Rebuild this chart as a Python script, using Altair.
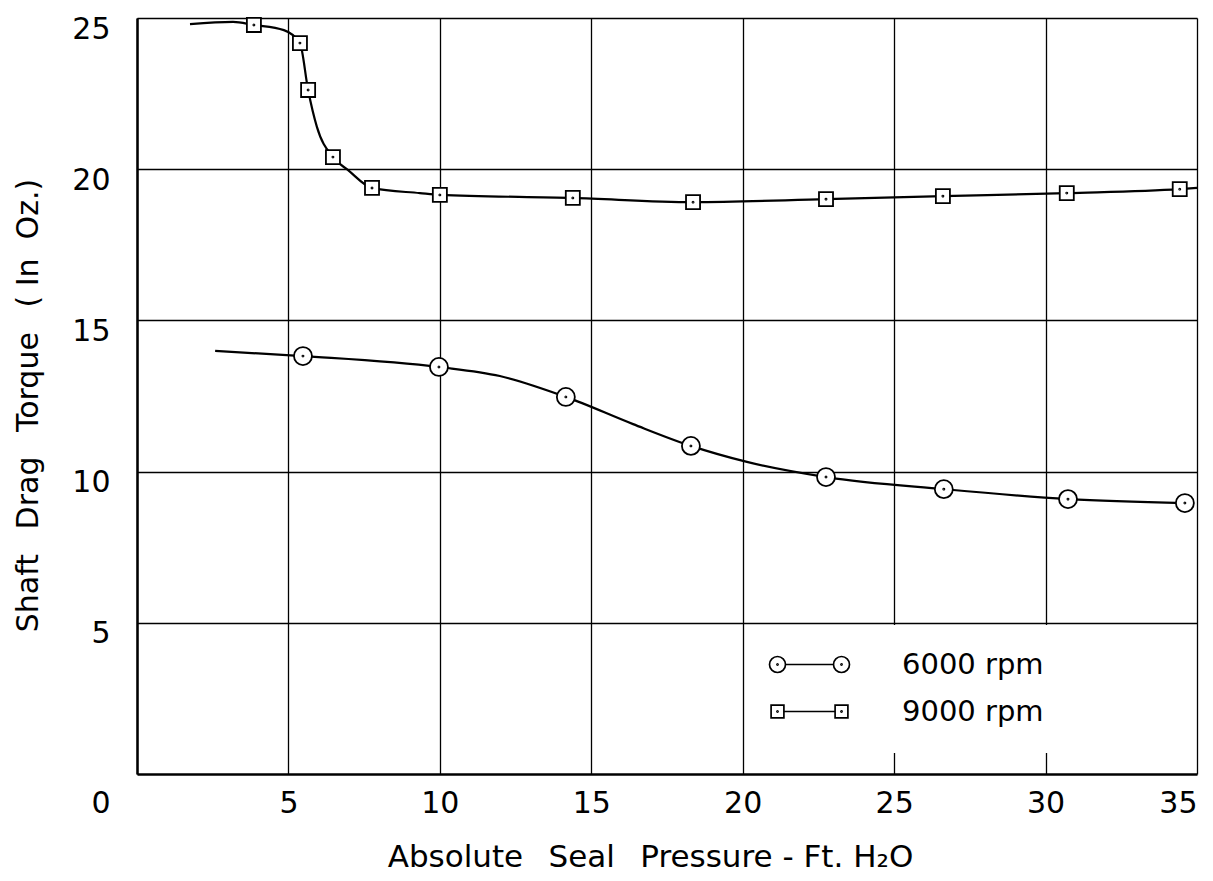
import altair as alt
import pandas as pd

series_names = ["6000 rpm", "9000 rpm"]

p6000_x = [5.48, 9.97, 14.16, 18.29, 22.75, 26.64, 30.74, 34.60]
p6000_y = [13.82, 13.46, 12.47, 10.85, 9.82, 9.42, 9.09, 8.96]
p9000_x = [3.86, 5.38, 5.65, 6.47, 7.76, 10.0, 14.39, 18.36, 22.75, 26.61, 30.70, 34.43]
p9000_y = [24.77, 24.17, 22.62, 20.40, 19.38, 19.15, 19.05, 18.91, 19.01, 19.11, 19.21, 19.34]

# faired curves
c6000_x = [2.58, 5.48, 9.97, 11.98, 14.16, 16.38, 18.29, 20.14, 22.75, 26.64, 30.74, 34.60]
c6000_y = [13.99, 13.82, 13.46, 13.16, 12.47, 11.57, 10.85, 10.32, 9.82, 9.42, 9.09, 8.96]
c9000_x = [1.75, 3.17, 3.86, 4.85, 5.38, 5.65, 5.94, 6.47, 6.97, 7.76, 9.34, 10.0,
           14.39, 18.36, 22.75, 26.61, 30.70, 34.43, 35.0]
c9000_y = [24.80, 24.87, 24.77, 24.60, 24.17, 22.62, 21.40, 20.40, 19.97, 19.38, 19.21, 19.15,
           19.05, 18.91, 19.01, 19.11, 19.21, 19.34, 19.38]

x_ticks = [0, 5, 10, 15, 20, 25, 30, 35]
y_ticks = [5, 10, 15, 20, 25]

x_title = "Absolute\u2002\u00a0Seal\u2002\u00a0Pressure\u00a0-\u00a0Ft.\u00a0H₂O"
y_title = "Shaft\u2002\u00a0Drag\u2002\u00a0Torque\u2002\u00a0(\u00a0In\u00a0\u00a0Oz.)"

points = pd.DataFrame(
    [{"p": x, "t": y, "series": series_names[0]} for x, y in zip(p6000_x, p6000_y)]
    + [{"p": x, "t": y, "series": series_names[1]} for x, y in zip(p9000_x, p9000_y)]
)
curves = pd.DataFrame(
    [{"p": x, "t": y, "series": series_names[0], "i": i} for i, (x, y) in enumerate(zip(c6000_x, c6000_y))]
    + [{"p": x, "t": y, "series": series_names[1], "i": i} for i, (x, y) in enumerate(zip(c9000_x, c9000_y))]
)

def circ(cx, r):
    return f"M{cx + r},0A{r},{r} 0 1,1 {cx - r},0A{r},{r} 0 1,1 {cx + r},0Z"

def sq(cx, h):
    return f"M{cx - h},{-h}L{cx + h},{-h}L{cx + h},{h}L{cx - h},{h}Z"

dot = 0.06
marker_circle = circ(0, 1) + circ(0, dot)
marker_square = sq(0, 0.78) + circ(0, dot)

L = 8.0
leg_circle = circ(0, 1) + f"M1,0L{L - 1},0" + circ(L, 1) + circ(0, 0.07) + circ(L, 0.07)
leg_square = sq(0, 0.8) + f"M0.8,0L{L - 0.8},0" + sq(L, 0.8) + circ(0, 0.07) + circ(L, 0.07)

FONT = "DejaVu Sans"

xscale = alt.Scale(domain=[0, 35], nice=False, zero=False)
yscale = alt.Scale(domain=[0, 25], nice=False, zero=False)

xaxis = alt.Axis(
    values=x_ticks, title=x_title,
    grid=True, gridColor="black", gridWidth=1.3, gridOpacity=1,
    domainColor="black", domainWidth=2.5, ticks=False,
    labelFont=FONT, labelFontSize=30, labelColor="black", labelPadding=14,
    labelOffset={"condition": {"test": "datum.value === 0", "value": -46}, "value": 0},
    titleFont=FONT, titleFontSize=31, titleFontWeight="normal", titleColor="black",
    titleX=513, titleY=83, titleBaseline="middle",
)
yaxis = alt.Axis(
    values=y_ticks, title=y_title,
    grid=True, gridColor="black", gridWidth=1.3, gridOpacity=1,
    domainColor="black", domainWidth=2.5, ticks=False,
    labelFont=FONT, labelFontSize=30, labelColor="black", labelPadding=27,
    labelOffset=11, labelBaseline="middle",
    titleFont=FONT, titleFontSize=30, titleFontWeight="normal", titleColor="black",
    titleX=-109, titleY=387, titleBaseline="middle", titleAngle=-90,
)

lines = alt.Chart(curves).mark_line(
    color="black", strokeWidth=2.2, interpolate="monotone"
).encode(
    x=alt.X("p:Q", scale=xscale, axis=xaxis),
    y=alt.Y("t:Q", scale=yscale, axis=yaxis),
    detail="series:N",
    order="i:Q",
)

markers = alt.Chart(points).mark_point(
    filled=True, fill="white", stroke="black", strokeWidth=1.8, size=324, opacity=1
).encode(
    x="p:Q",
    y="t:Q",
    shape=alt.Shape("series:N", scale=alt.Scale(domain=series_names, range=[marker_circle, marker_square]), legend=None),
)

legend_layer = alt.Chart(points).transform_filter("false").mark_point(
    filled=False, color="black", strokeWidth=1.7, size=256, opacity=1
).encode(
    x="p:Q",
    y="t:Q",
    shape=alt.Shape(
        "series:N",
        scale=alt.Scale(domain=series_names, range=[leg_circle, leg_square]),
        legend=alt.Legend(
            title=None, orient="none", legendX=609, legendY=607,
            fillColor="white", padding=25, strokeColor="white",
            labelFont=FONT, labelFontSize=29, labelColor="black",
            labelOffset=110, symbolOffset=-8, symbolSize=256, rowPadding=17,
            symbolStrokeColor="black", symbolStrokeWidth=1.7,
            labelLimit=400,
        ),
    ),
)

chart = alt.layer(lines, markers, legend_layer).resolve_scale(shape="independent").properties(
    width=1060, height=756,
    autosize=alt.AutoSizeParams(type="none"),
    padding={"left": 137, "top": 18, "right": 16, "bottom": 107},
).configure_view(stroke="black", strokeWidth=1.6).configure(background="white")

chart.save("out.html", embed_options={"renderer": "svg", "actions": False})
